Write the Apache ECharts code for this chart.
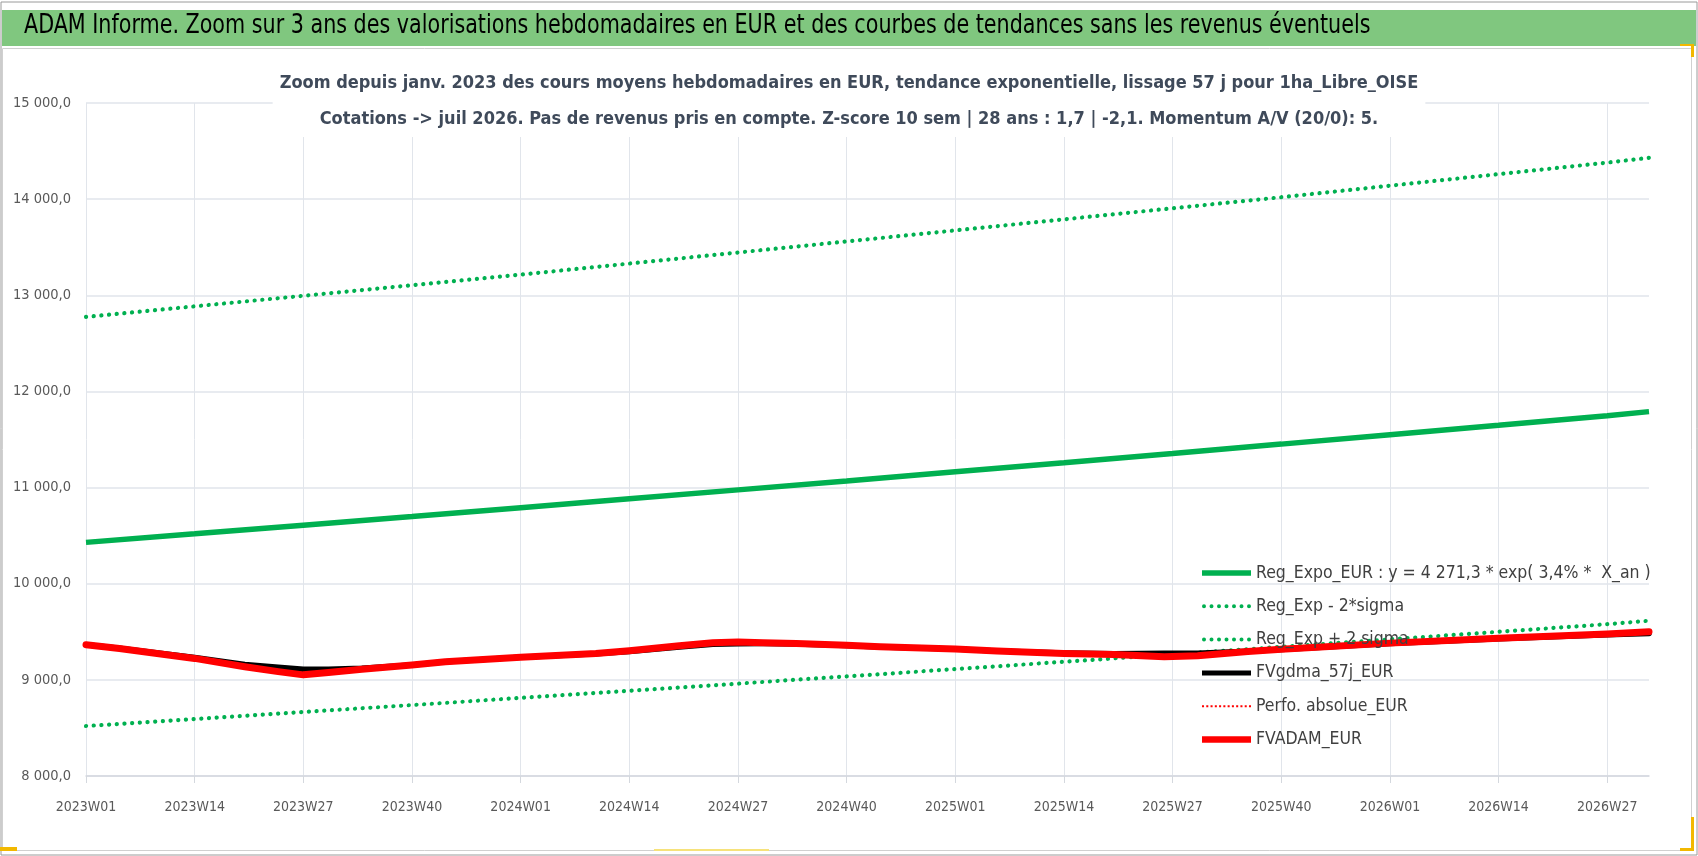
<!DOCTYPE html>
<html>
<head>
<meta charset="utf-8">
<title>ADAM Informe</title>
<script src="https://cdn.jsdelivr.net/npm/echarts/dist/echarts.min.js"></script>
<style>
  html, body { margin: 0; padding: 0; background: #fff; }
  #chart { width: 1698px; height: 856px; }
</style>
</head>
<body>
<div id="chart"></div>
<script>
// semaines ISO affichées : 2023W01 -> 2026W32
var categories = [];
[[2023, 52], [2024, 52], [2025, 52], [2026, 32]].forEach(function (y) {
    for (var w = 1; w <= y[1]; w++) {
        categories.push(y[0] + 'W' + (w < 10 ? '0' + w : w));
    }
});

var trendWeeks = ['2023W01', '2023W14', '2023W27', '2023W40', '2024W01', '2024W14', '2024W27', '2024W40',
    '2025W01', '2025W14', '2025W27', '2025W40', '2026W01', '2026W14', '2026W27', '2026W32'];
var regExpo = [10430, 10519, 10609, 10699, 10791, 10883, 10976, 11069, 11164, 11259, 11355, 11452, 11550, 11648, 11748, 11790];
var regMinus2s = [8520, 8592, 8665, 8738, 8812, 8886, 8961, 9036, 9112, 9188, 9265, 9343, 9421, 9500, 9579, 9615];
var regPlus2s = [12775, 12885, 12995, 13105, 13215, 13330, 13445, 13560, 13675, 13790, 13905, 14020, 14140, 14260, 14380, 14430];

// valorisations hebdomadaires
var valWeeks = ['2023W01', '2023W05', '2023W14', '2023W20', '2023W24', '2023W27', '2023W30', '2023W34', '2023W40', '2023W44',
    '2024W01', '2024W10', '2024W14', '2024W20', '2024W24', '2024W27', '2024W30', '2024W34', '2024W40', '2024W44',
    '2025W01', '2025W06', '2025W14', '2025W20', '2025W26', '2025W30', '2025W36', '2025W40',
    '2026W01', '2026W14', '2026W27', '2026W32'];
var fvAdam = [9365, 9326, 9223, 9137, 9086, 9052, 9076, 9110, 9155, 9189,
    9234, 9275, 9302, 9354, 9385, 9395, 9385, 9378, 9361, 9344,
    9320, 9299, 9275, 9265, 9240, 9250, 9295, 9318,
    9382, 9432, 9477, 9500];
var fvGdma = [9365, 9328, 9232, 9161, 9130, 9110, 9110, 9122, 9155, 9189,
    9234, 9272, 9296, 9342, 9370, 9376, 9377, 9374, 9358, 9342,
    9320, 9300, 9280, 9272, 9278, 9278, 9298, 9316,
    9378, 9428, 9468, 9482];
var perfoAbsolue = [];

var yTicks = { min: 8000, max: 15000, step: 1000 };

var legendNames = ['Reg_Expo_EUR : y = 4 271,3 * exp( 3,4% *  X_an )', 'Reg_Exp - 2*sigma', 'Reg_Exp + 2 sigma',
    'FVgdma_57j_EUR', 'Perfo. absolue_EUR', 'FVADAM_EUR'];

function pairs(weeks, vals) {
    return vals.map(function (v, i) { return [weeks[i], v]; });
}
function fmtNum(v) {
    return String(v).replace(/\B(?=(\d{3})+(?!\d))/g, ' ') + ',0';
}

// icônes de légende (trait plein / pointillés ronds / petits points)
function barIcon(h) {
    return 'path://M0,0H49V' + h + 'H0Z';
}
function roundDotsIcon() {
    var p = '';
    for (var i = 0; i < 7; i++) {
        var x = i * 7.5;
        p += 'M' + x + ',2a2 2 0 1 0 4 0a2 2 0 1 0 -4 0Z';
    }
    return 'path://' + p;
}
function smallDotsIcon() {
    var p = '';
    for (var i = 0; i < 12; i++) {
        var x = i * 4.2;
        p += 'M' + x + ',0h2v2h-2Z';
    }
    return 'path://' + p;
}

var FONT = "'Liberation Sans Narrow', 'DejaVu Sans Condensed', 'Open Sans', sans-serif";
var GREEN = '#00b050';
var dots = { width: 4.2, type: [0.1, 7.6], cap: 'round', color: GREEN };

var myChart = echarts.init(document.getElementById('chart'));

myChart.setOption({
    animation: false,
    textStyle: { fontFamily: FONT },
    graphic: [
        { type: 'rect', shape: { x: 1, y: 2, width: 1696, height: 853 }, style: { fill: 'none', stroke: '#9a9a9a', lineWidth: 1 }, z: 0 },
        { type: 'rect', shape: { x: 2, y: 10, width: 1694, height: 36 }, style: { fill: '#80c77f' }, z: 0 },
        { type: 'rect', shape: { x: 2.5, y: 48.5, width: 1689, height: 802 }, style: { fill: 'none', stroke: '#d0d0d0', lineWidth: 1 }, z: 0 },
        { type: 'text', left: 24, top: 13, scaleY: 1.15, style: { text: 'ADAM Informe. Zoom sur 3 ans des valorisations hebdomadaires en EUR et des courbes de tendances sans les revenus éventuels', font: "23px " + FONT, fill: '#000' }, z: 10 },
        // poignées de sélection
        { type: 'rect', shape: { x: 0, y: 847, width: 17, height: 4 }, style: { fill: '#f2b800' }, z: 10 },
        { type: 'rect', shape: { x: 654, y: 849, width: 115, height: 2 }, style: { fill: '#f6e27a' }, z: 10 },
        { type: 'rect', shape: { x: 1691, y: 817, width: 3, height: 34 }, style: { fill: '#f2b800' }, z: 10 },
        { type: 'rect', shape: { x: 1680, y: 848, width: 14, height: 3 }, style: { fill: '#f2b800' }, z: 10 },
        { type: 'rect', shape: { x: 1691, y: 44, width: 3, height: 13 }, style: { fill: '#f2b800' }, z: 10 },
        { type: 'rect', shape: { x: 1680, y: 44, width: 14, height: 2 }, style: { fill: '#f2b800' }, z: 10 }
    ],
    title: {
        text: 'Zoom depuis janv. 2023 des cours moyens hebdomadaires en EUR, tendance exponentielle, lissage 57 j pour 1ha_Libre_OISE\nCotations -> juil 2026. Pas de revenus pris en compte. Z-score 10 sem | 28 ans : 1,7 | -2,1. Momentum A/V (20/0): 5.',
        left: 'center',
        top: 62,
        padding: [3, 7, 0, 7],
        backgroundColor: '#fff',
        textStyle: { fontFamily: FONT, fontSize: 18, fontWeight: 'bold', color: '#3f4a5a', lineHeight: 36, align: 'center' }
    },
    legend: {
        orient: 'vertical',
        left: 1197,
        top: 558,
        itemWidth: 49,
        itemHeight: 20,
        itemGap: 13.3,
        textStyle: { fontFamily: FONT, fontSize: 17.5, color: '#404040', lineHeight: 20 },
        data: [
            { name: legendNames[0], icon: barIcon(5.5) },
            { name: legendNames[1], icon: roundDotsIcon() },
            { name: legendNames[2], icon: roundDotsIcon() },
            { name: legendNames[3], icon: barIcon(5) },
            { name: legendNames[4], icon: smallDotsIcon() },
            { name: legendNames[5], icon: barIcon(6.5) }
        ]
    },
    grid: { left: 86, right: 49, top: 103, bottom: 80 },
    xAxis: {
        type: 'category',
        boundaryGap: false,
        data: categories,
        axisLine: { lineStyle: { color: '#d4d8de', width: 1.5 } },
        axisTick: { interval: 12, length: 7, lineStyle: { color: '#d4d8de' } },
        axisLabel: { interval: 12, margin: 24, fontSize: 14, color: '#595959', fontFamily: FONT },
        splitLine: { show: true, interval: 12, lineStyle: { color: '#e1e5eb', width: 1 } }
    },
    yAxis: {
        type: 'value',
        min: yTicks.min,
        max: yTicks.max,
        interval: yTicks.step,
        axisLine: { show: false },
        axisTick: { show: false },
        axisLabel: { fontSize: 14.5, color: '#595959', margin: 15, fontFamily: FONT, formatter: fmtNum },
        splitLine: { lineStyle: { color: '#e1e5eb', width: 1.5 } }
    },
    series: [
        {
            name: legendNames[0],
            type: 'line', symbol: 'none',
            lineStyle: { width: 5.5, color: GREEN }, itemStyle: { color: GREEN },
            data: pairs(trendWeeks, regExpo)
        },
        {
            name: legendNames[1],
            type: 'line', symbol: 'none',
            lineStyle: dots, itemStyle: { color: GREEN },
            data: pairs(trendWeeks, regMinus2s)
        },
        {
            name: legendNames[2],
            type: 'line', symbol: 'none',
            lineStyle: dots, itemStyle: { color: GREEN },
            data: pairs(trendWeeks, regPlus2s)
        },
        {
            name: legendNames[3],
            type: 'line', symbol: 'none',
            lineStyle: { width: 5.5, color: '#000', cap: 'round', join: 'round' }, itemStyle: { color: '#000' },
            data: pairs(valWeeks, fvGdma)
        },
        {
            name: legendNames[4],
            type: 'line', symbol: 'none',
            lineStyle: { width: 2, type: [1.6, 2.4], color: '#ff0000' }, itemStyle: { color: '#ff0000' },
            data: perfoAbsolue
        },
        {
            name: legendNames[5],
            type: 'line', symbol: 'none',
            lineStyle: { width: 7, color: '#ff0000', cap: 'round', join: 'round' }, itemStyle: { color: '#ff0000' },
            data: pairs(valWeeks, fvAdam)
        }
    ]
});
</script>
</body>
</html>
